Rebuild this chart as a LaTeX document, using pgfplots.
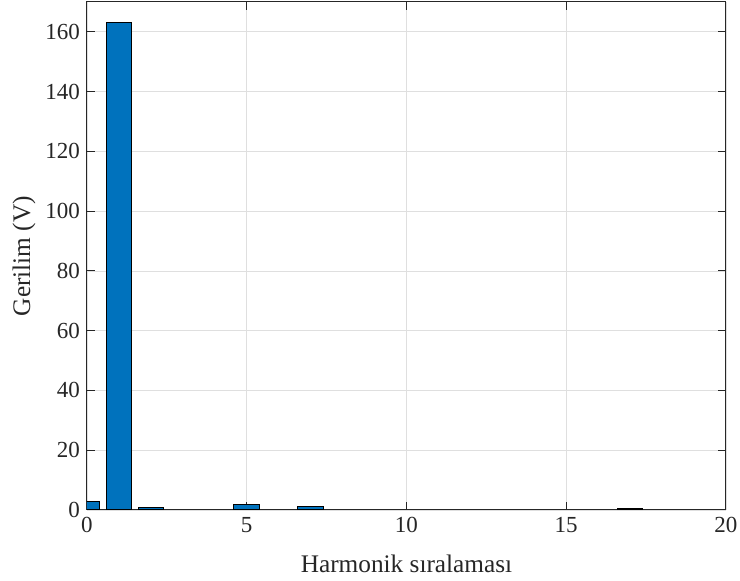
\documentclass[border=0pt]{standalone}
\usepackage{fontspec}
\setmainfont{Liberation Serif}
\usepackage{pgfplots}
\pgfplotsset{compat=1.18}
\definecolor{barblue}{RGB}{0,114,189}
\definecolor{axgray}{RGB}{38,38,38}
\begin{document}
\begin{tikzpicture}[font=\fontsize{11.5}{13.5}\selectfont]
\begin{axis}[
  scale only axis,
  width=319.5pt, height=254pt,
  xmin=0, xmax=20, ymin=0, ymax=170,
  xtick={0,5,...,20}, ytick={0,20,...,160},
  ybar, bar width=0.8,
  grid=major,
  major grid style={gray!25, line width=0.4pt},
  tick align=inside,
  axis line style={axgray, line width=0.5pt},
  tick style={axgray, line width=0.5pt},
  major tick length=4pt,
  /pgf/number format/assume math mode=true,
  tick label style={font=\fontsize{11.5}{13.5}\selectfont, text=axgray},
  label style={font=\fontsize{12.65}{15}\selectfont, text=axgray},
  xlabel={Harmonik sıralaması},
  ylabel={Gerilim (V)},
  xlabel style={at={(axis description cs:0.5,0)}, anchor=center, yshift=-27pt},
  % the label is rotated, so its local y axis points left
  ylabel style={at={(axis description cs:0,0.5)}, anchor=center, yshift=31.5pt},
]
\addplot[fill=barblue, draw=black, line width=0.5pt, bar shift=0pt]
  coordinates {(0,2.7) (1,163) (2,1.0) (5,1.9) (7,1.1) (17,0.5)};
\end{axis}
\pgfresetboundingbox
\path ([shift={(-43.5pt,-35.5pt)}]current axis.south west)
  rectangle ([shift={(7pt,1pt)}]current axis.north east);
\end{tikzpicture}
\end{document}
